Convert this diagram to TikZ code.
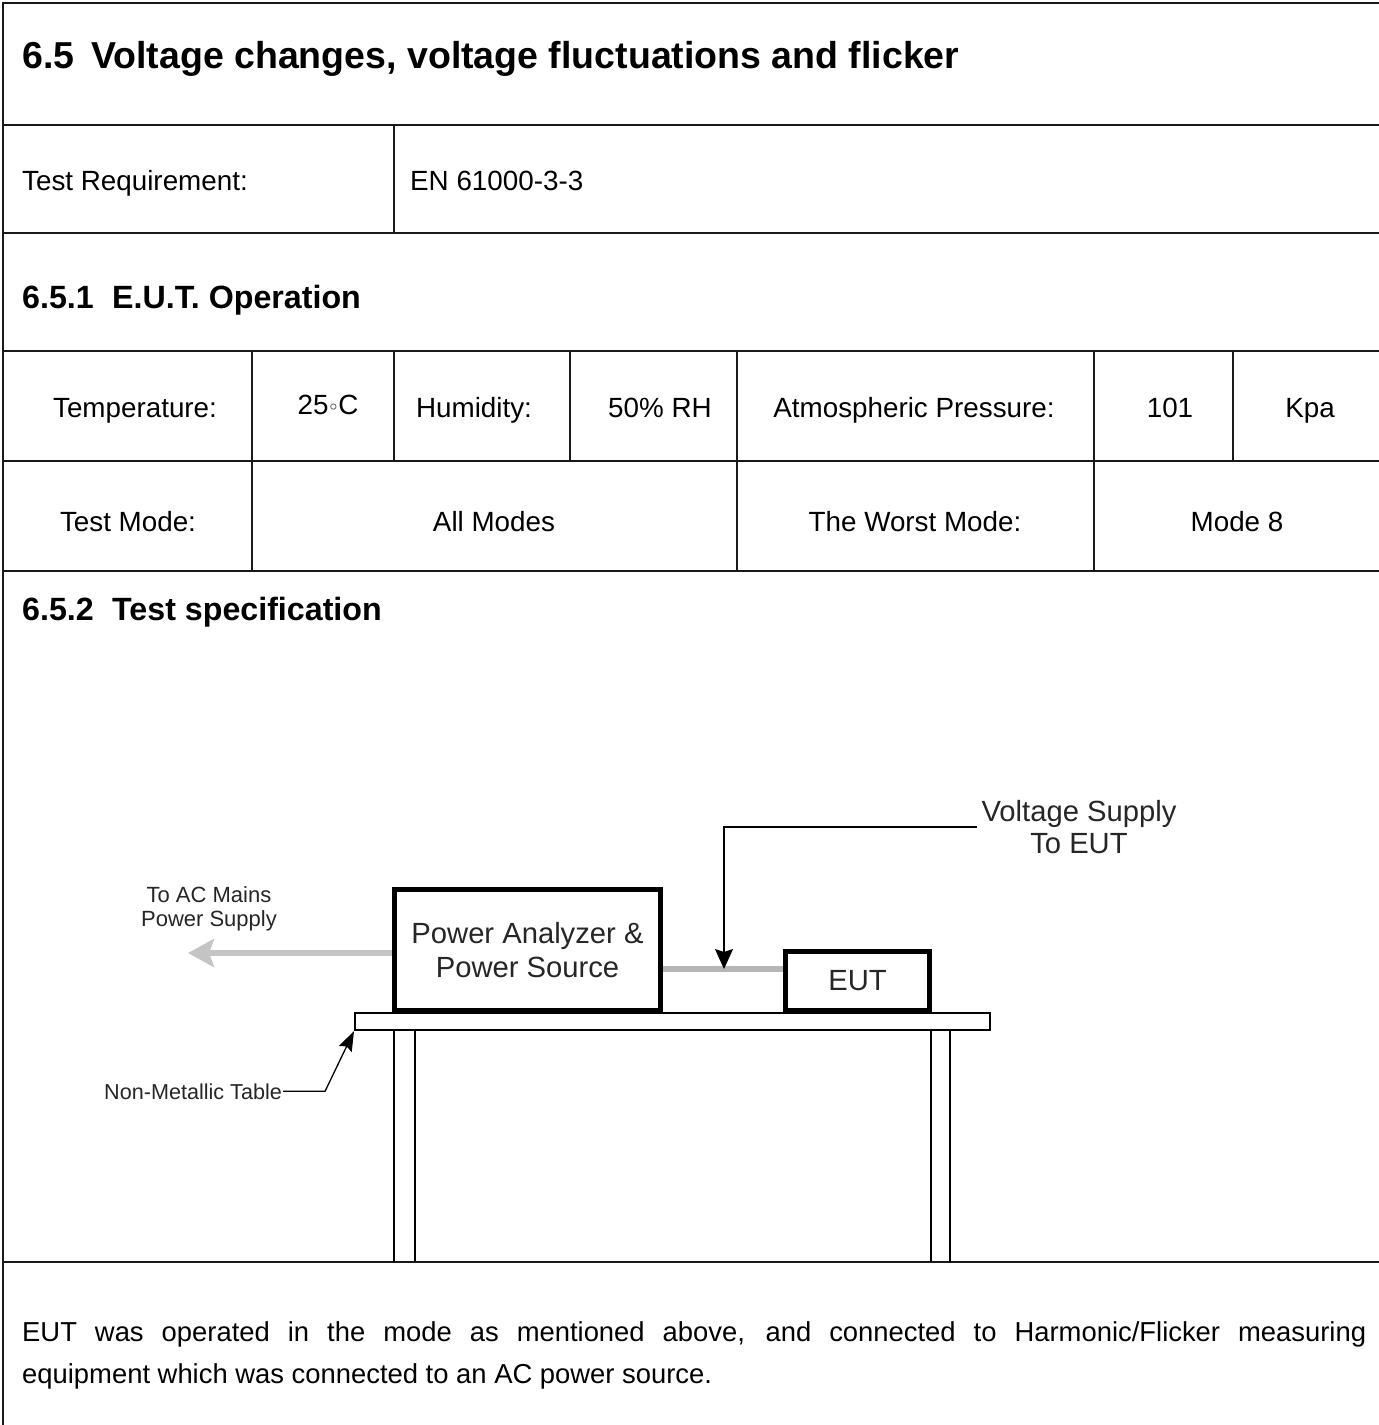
\documentclass[tikz,border=0pt]{standalone}
\usepackage{fontspec}
\setmainfont{Liberation Sans}
\newfontfamily\djv{DejaVu Sans}
\usetikzlibrary{arrows.meta}
\definecolor{cablegray}{HTML}{B5B5B5}
\definecolor{arrgray}{HTML}{C4C4C4}
\definecolor{dtext}{HTML}{262626}
\begin{document}
\begin{tikzpicture}[x=1pt,y=-1pt,
  tbl/.style={line width=1.3pt, black!90},
  cellc/.style={anchor=base, inner sep=0pt, font=\fontsize{27.8}{32}\selectfont},
  celll/.style={anchor=base west, inner sep=0pt, font=\fontsize{27.8}{32}\selectfont},
  titlef/.style={anchor=base west, inner sep=0pt, font=\fontsize{37.5}{40}\selectfont\bfseries},
  headf/.style={anchor=base west, inner sep=0pt, font=\fontsize{32.2}{36}\selectfont\bfseries},
  para/.style={anchor=base west, inner sep=0pt, font=\fontsize{27.4}{42}\selectfont},
  devbox/.style={draw, fill=white, line width=5pt, inner sep=0pt, align=center, text=dtext},
  smalllbl/.style={align=center, text=dtext, font=\fontsize{22}{24}\selectfont},
  leader/.style={line width=1.3pt, black},
]
\useasboundingbox (0,0) rectangle (1379,1425);
\fill[white] (0,0) rectangle (1379,1425);

% ---------- table grid ----------
\draw[tbl] (3,1425) -- (3,3) -- (1379,3);
\foreach \yy in {125,233,351,461,571,1262} \draw[tbl] (3,\yy) -- (1379,\yy);
\draw[tbl] (394,125) -- (394,233);
\draw[tbl] (252,351) -- (252,571);
\draw[tbl] (394,351) -- (394,461);
\draw[tbl] (570,351) -- (570,461);
\draw[tbl] (737,351) -- (737,571);
\draw[tbl] (1094,351) -- (1094,571);
\draw[tbl] (1233,351) -- (1233,461);

% ---------- texts ----------
\node[titlef] (tnum) at (22,68) {6.5};
\node[titlef] (ttxt) at (91,68) {Voltage changes, voltage fluctuations and flicker};
\node[celll] (treq) at (22,190) {Test Requirement:};
\node[celll] (tstd) at (410,190) {EN 61000-3-3};
\node[headf] (h1n) at (22,308) {6.5.1};
\node[headf] (h1t) at (112,308) {E.U.T. Operation};
\node[cellc] (temp) at (135,417) {Temperature:};
\node[cellc] (tempv) at (328,414) {25\kern-1pt{\djv\fontsize{20}{22}\selectfont ◦}\kern-1pt C};
\node[cellc] (hum) at (474,417) {Humidity:};
\node[cellc] (humv) at (660,417) {50\% RH};
\node[cellc] (atm) at (914,417) {Atmospheric Pressure:};
\node[cellc] (atmv) at (1170,417) {101};
\node[cellc] (atmu) at (1310,417) {Kpa};
\node[cellc] (tm) at (128,531) {Test Mode:};
\node[cellc] (tmv) at (494,531) {All Modes};
\node[cellc] (wm) at (915,531) {The Worst Mode:};
\node[cellc] (wmv) at (1237,531) {Mode 8};
\node[headf] (h2n) at (22,620) {6.5.2};
\node[headf] (h2t) at (112,620) {Test specification};
\node[para] (p1) at (22,1341) {\makebox[1344pt][s]{EUT was operated in the mode as mentioned above, and connected to Harmonic/Flicker measuring}};
\node[para] (p2) at (22,1383) {equipment which was connected to an AC power source.};

% ---------- diagram ----------
\node[draw, line width=2pt, minimum width=635pt, minimum height=17pt, inner sep=0pt] (plank) at (672.5,1021.5) {};
\draw[line width=1.6pt] (394,1030) -- (394,1262);
\draw[line width=1.6pt] (415,1030) -- (415,1262);
\draw[line width=1.6pt] (931,1030) -- (931,1262);
\draw[line width=1.6pt] (950,1030) -- (950,1262);

\node[devbox, minimum width=266pt, minimum height=121pt, font=\fontsize{29.2}{34}\selectfont] (pa) at (527.5,950) {Power Analyzer \&\\Power Source};
\node[devbox, minimum width=144pt, minimum height=59pt, font=\fontsize{29.2}{34}\selectfont] (eut) at (857.5,981) {EUT};

\coordinate (cab) at (0,969);
\coordinate (acTip) at (188,953);
\coordinate (vTip) at (724,969);
\draw[line width=6pt, cablegray] (pa.east |- cab) -- (eut.west |- cab);
\draw[line width=6pt, arrgray, -{Stealth[length=26pt,width=28pt,inset=5pt]}] (pa.west |- acTip) -- (acTip);

\node[smalllbl] (ac) at (209,909) {To AC Mains\\Power Supply};
\node[align=center, text=dtext, inner sep=4pt, font=\fontsize{29.2}{32}\selectfont] (vs) at (1079,827) {Voltage Supply\\To EUT};
\draw[leader, -{Stealth[length=20pt,width=18pt,inset=3pt]}] (vs.west) -| (vTip);

\node[anchor=base west, inner sep=1pt, text=dtext, font=\fontsize{21.6}{24}\selectfont] (nmt) at (103,1099) {Non-Metallic Table};
\draw[leader, -{Stealth[length=20pt,width=14pt,inset=3pt]}] (nmt.east) -- ++(42,0) -- (plank.south west);
\end{tikzpicture}
\end{document}
